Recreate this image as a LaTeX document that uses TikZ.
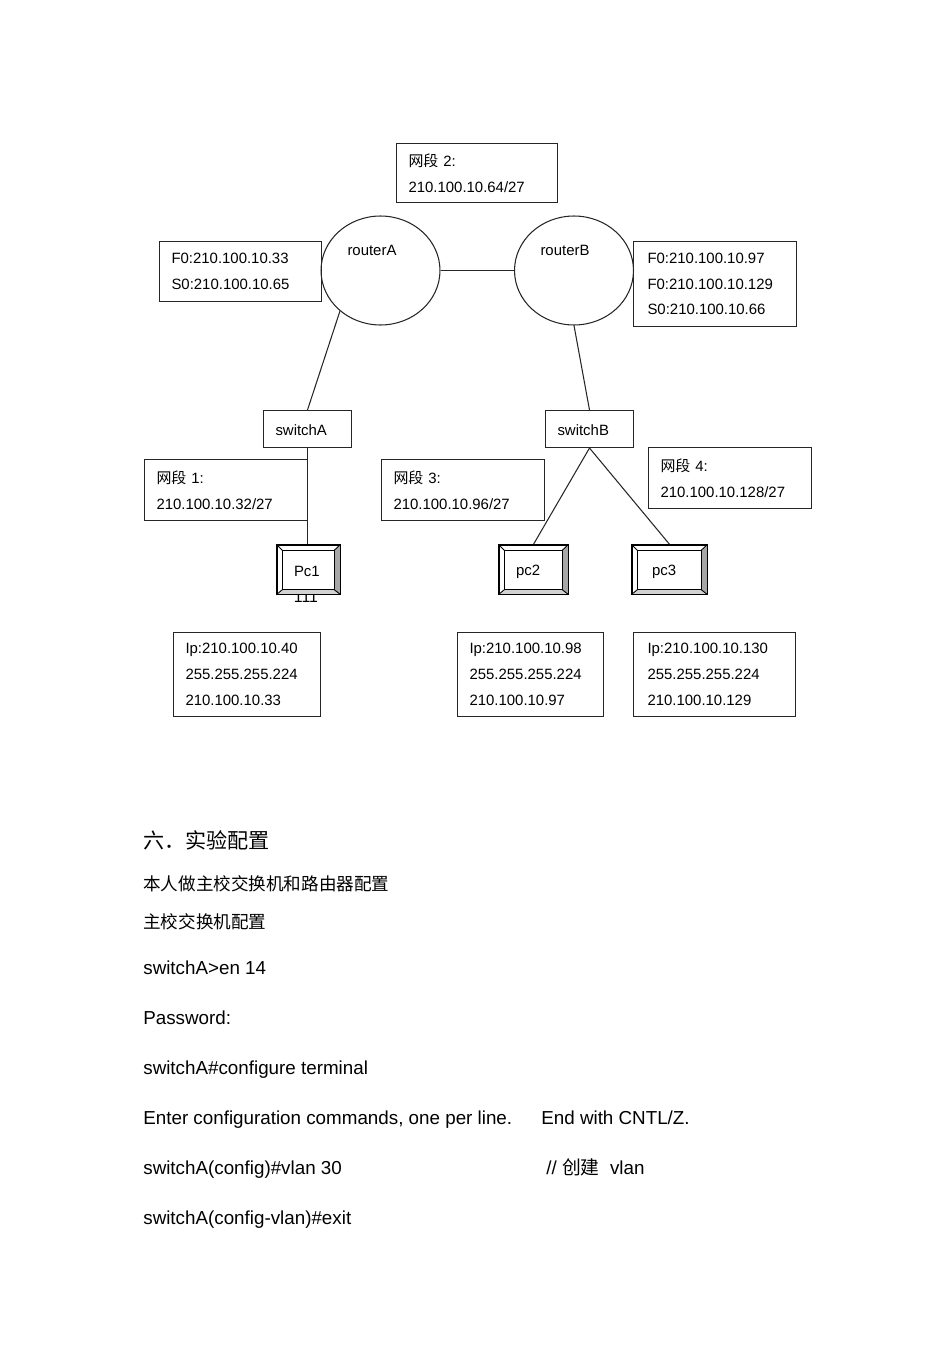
\documentclass[tikz,border=0pt]{standalone}
\usepackage{fontspec}
\setmainfont{Liberation Sans}
\newfontfamily\cjk{Noto Sans CJK SC}
\usetikzlibrary{calc,shapes.geometric}

\begin{document}
\begin{tikzpicture}[x=0.02cm, y=-0.02cm,
		main/.style={
			line width=0.6pt,
			color=black!85
			},
		box/.style={main, draw, rectangle, anchor=north west, align=left, text=black,
			inner xsep=0.24cm, inner ysep=0pt, font=\fontsize{8.5}{14.7}\selectfont},
		router/.style={main, draw, ellipse, minimum width=2.38cm, minimum height=2.18cm, inner sep=0pt},
		switchbox/.style={main, draw, rectangle, minimum width=1.76cm, minimum height=0.74cm,
			inner xsep=0.24cm, inner ysep=0pt, text width=1.28cm, align=left, text height=8pt,
			text=black, font=\fontsize{8.5}{10}\selectfont},
		pc/.style={draw, line width=0.8pt, fill=white, minimum height=0.98cm, inner xsep=0.34cm,
			inner ysep=0pt, align=left, text height=8.5pt, font=\fontsize{8.5}{10}\selectfont},
		tag/.style={inner sep=0pt, font=\fontsize{8.5}{10}\selectfont},
		txt/.style={anchor=base west, inner sep=0pt, font=\fontsize{10.7}{12}\selectfont},
		cn/.style={anchor=base west, inner sep=0pt, font=\fontsize{10}{12}\cjk}
		]

		\useasboundingbox (0,0) rectangle (950,1345);

		% routers and segment 2
		\node[box, minimum width=3.22cm, minimum height=1.18cm, text width=2.74cm] (seg2) at (396,143) {{\cjk 网段} 2:\\210.100.10.64/27};
		\node[router] (routerA) at (380.5,270.5) {};
		\node[router] (routerB) at (574,270.5) {};
		\node[tag] (nameA) at (372,250) {routerA};
		\node[tag] (nameB) at (565,250) {routerB};
		\node[box, minimum width=3.24cm, minimum height=1.2cm, text width=2.76cm] (ifA) at (159,241) {F0:210.100.10.33\\S0:210.100.10.65};
		\node[box, inner xsep=0.28cm, minimum width=3.26cm, minimum height=1.7cm, text width=2.7cm] (ifB) at (633,241) {F0:210.100.10.97\\F0:210.100.10.129\\S0:210.100.10.66};

		% switches and segments 1, 3, 4
		\node[switchbox] (switchA) at (307.5,429) {switchA};
		\node[switchbox] (switchB) at (589.5,429) {switchB};
		\node[box, minimum width=3.26cm, minimum height=1.22cm, text width=2.78cm] (seg1) at (144,459) {{\cjk 网段} 1:\\210.100.10.32/27};
		\node[box, minimum width=3.26cm, minimum height=1.22cm, text width=2.78cm] (seg3) at (381,459) {{\cjk 网段} 3:\\210.100.10.96/27};
		\node[box, minimum width=3.26cm, minimum height=1.22cm, text width=2.78cm] (seg4) at (648,447) {{\cjk 网段} 4:\\210.100.10.128/27};

		% pcs
		\node[tag, font=\fontsize{9}{10}\selectfont] (pcnum) at (306,597) {111};
		\node[pc, minimum width=1.26cm, text width=0.58cm] (pc1) at (308.5,569.5) {Pc1};
		\node[pc, minimum width=1.38cm, text width=0.70cm] (pc2) at (533.5,569.5) {pc2};
		\node[pc, minimum width=1.50cm, inner xsep=0.4cm, text width=0.7cm] (pc3) at (669.5,569.5) {pc3};
		\foreach \p in {pc1,pc2,pc3} {
			\fill[gray!70] (\p.north east) -- (\p.south east) -- ([shift={(-0.13cm,0.1cm)}]\p.south east) -- ([shift={(-0.13cm,-0.12cm)}]\p.north east) -- cycle;
			\fill[gray!35] (\p.south west) -- (\p.south east) -- ([shift={(-0.13cm,0.1cm)}]\p.south east) -- ([shift={(0.12cm,0.1cm)}]\p.south west) -- cycle;
			\draw[line width=0.6pt] ([shift={(0.12cm,-0.12cm)}]\p.north west) rectangle ([shift={(-0.13cm,0.1cm)}]\p.south east);
			\draw[line width=0.5pt] (\p.north west) -- ++(0.12cm,-0.12cm) (\p.north east) -- ++(-0.13cm,-0.12cm)
				(\p.south east) -- ++(-0.13cm,0.1cm) (\p.south west) -- ++(0.12cm,0.1cm);
			\draw[line width=0.8pt] (\p.north west) rectangle (\p.south east);
		}

		% ip boxes
		\node[box, minimum width=2.94cm, minimum height=1.68cm, text width=2.46cm] (ip1) at (173,632) {Ip:210.100.10.40\\255.255.255.224\\210.100.10.33};
		\node[box, minimum width=2.92cm, minimum height=1.68cm, text width=2.44cm] (ip2) at (457,632) {Ip:210.100.10.98\\255.255.255.224\\210.100.10.97};
		\node[box, inner xsep=0.28cm, minimum width=3.24cm, minimum height=1.68cm, text width=2.68cm] (ip3) at (633,632) {Ip:210.100.10.130\\255.255.255.224\\210.100.10.129};

		% links
		\draw[main] (routerA) -- (routerB);
		\draw[main] (routerA.-135) -- (switchA.north);
		\draw[main] (routerB.south) -- (switchB.north);
		\draw[main] (switchA.south) -- (switchA.south |- pc1.north);
		\draw[main] (switchB.south) -- (pc2.north);
		\draw[main] (switchB.south) -- (pc3.north);

		% text below
		\node[anchor=base west, inner sep=0pt, font=\fontsize{12}{14}\cjk] (sec6) at (143,848) {六．实验配置};
		\node[cn] (line1) at (143,890) {本人做主校交换机和路由器配置};
		\node[cn] (line2) at (143,928) {主校交换机配置};
		\node[txt] (cmd1) at (143,974) {switchA>en 14};
		\node[txt] (cmd2) at (143,1024) {Password:};
		\node[txt] (cmd3) at (143,1074) {switchA\#configure terminal};
		\node[txt] (cmd4) at (143,1124) {Enter configuration commands, one per line.};
		\node[txt] (cmd4b) at (541,1124) {End with CNTL/Z.};
		\node[txt] (cmd5) at (143,1174) {switchA(config)\#vlan 30};
		\node[txt] (cmd5b) at (546,1174) {// {\cjk 创建}\ \ vlan};
		\node[txt] (cmd6) at (143,1224) {switchA(config-vlan)\#exit};

	\end{tikzpicture}
\end{document}
